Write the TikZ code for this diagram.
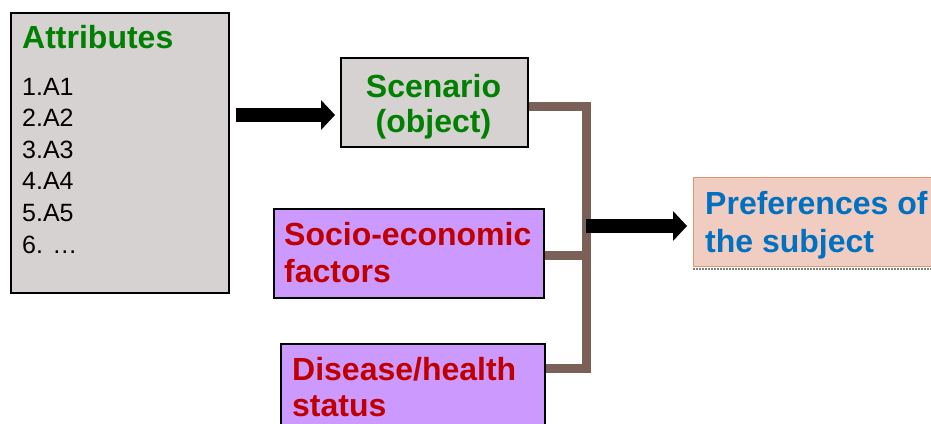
\documentclass[tikz,border=0pt]{standalone}
\usepackage{fontspec}
\setmainfont{Liberation Sans}
\usetikzlibrary{arrows.meta}
\definecolor{boxgray}{RGB}{214,210,210}
\definecolor{lilac}{RGB}{204,153,255}
\definecolor{prefpink}{RGB}{240,205,192}
\definecolor{preforange}{RGB}{222,150,110}
\definecolor{headgreen}{RGB}{0,128,0}
\definecolor{headred}{RGB}{192,0,0}
\definecolor{headblue}{RGB}{0,112,192}
\definecolor{linkbrown}{RGB}{122,96,86}

\begin{document}
\begin{tikzpicture}[x=1pt,y=-1pt,
                box/.style={draw,line width=1.5pt,inner sep=0pt,anchor=north west},
                head/.style={font=\bfseries\fontsize{32}{35}\selectfont,inner sep=0pt,anchor=base west},
                item/.style={font=\fontsize{25}{30}\selectfont,inner sep=0pt,anchor=base west},
                link/.style={draw=linkbrown,line width=9pt},
                bigarrow/.style={line width=14pt,-{Triangle[width=30pt,length=14pt,line width=0pt]}}]
  \useasboundingbox (0,0) rectangle (931,423);
  \clip (0,0) rectangle (931,423);
  % boxes
  \node[box,fill=boxgray,minimum width=218pt,minimum height=280pt] (attr)  at (10,12)  {};
  \node[box,fill=boxgray,minimum width=187pt,minimum height=89pt]  (scen)  at (340,57)  {};
  \node[box,fill=lilac,minimum width=270pt,minimum height=89pt]    (socio) at (273,208) {};
  \node[box,fill=lilac,minimum width=264pt,minimum height=110pt]   (dis)   at (280,343) {};
  \node[box,fill=prefpink,draw=preforange,line width=0.8pt,minimum width=260pt,minimum height=89pt] (pref) at (693,177) {};
  \draw[gray,densely dotted,line width=2pt] ([yshift=-2pt]pref.south west) -- ([yshift=-2pt]pref.south east);
  % texts
  \node[head,text=headgreen] (attrhead) at (22,48) {Attributes};
  \foreach \i/\t in {1/1.A1,2/2.A2,3/3.A3,4/4.A4,5/5.A5,6/{6. …}}
    \node[item] (item\i) at (22,{95+31.6*(\i-1)}) {\t};
  \node[head,anchor=base,text=headgreen] (scen1) at (433.5,97)  {Scenario};
  \node[head,anchor=base,text=headgreen] (scen2) at (433.5,132) {(object)};
  \node[head,text=headred]  (socio1) at (284,245) {Socio-economic};
  \node[head,text=headred]  (socio2) at (284,282) {factors};
  \node[head,text=headred]  (dis1)   at (292,380) {Disease/health};
  \node[head,text=headred]  (dis2)   at (292,416) {status};
  \node[head,text=headblue] (pref1)  at (705,214) {Preferences of};
  \node[head,text=headblue] (pref2)  at (705,252) {the subject};
  % connectors
  \coordinate (bus) at (586,226);
  \draw[link] (scen.east |- 0,106) -| (bus);
  \draw[link] (dis.east |- 0,368) -| (bus);
  \draw[link] (socio.east |- 0,255) -- (bus |- 0,255);
  \draw[bigarrow,shorten <=6pt,shorten >=5pt] (attr.east |- 0,115) -- (scen.west |- 0,115);
  \draw[bigarrow,shorten >=6pt] (bus) -- (pref.west |- bus);
\end{tikzpicture}
\end{document}
